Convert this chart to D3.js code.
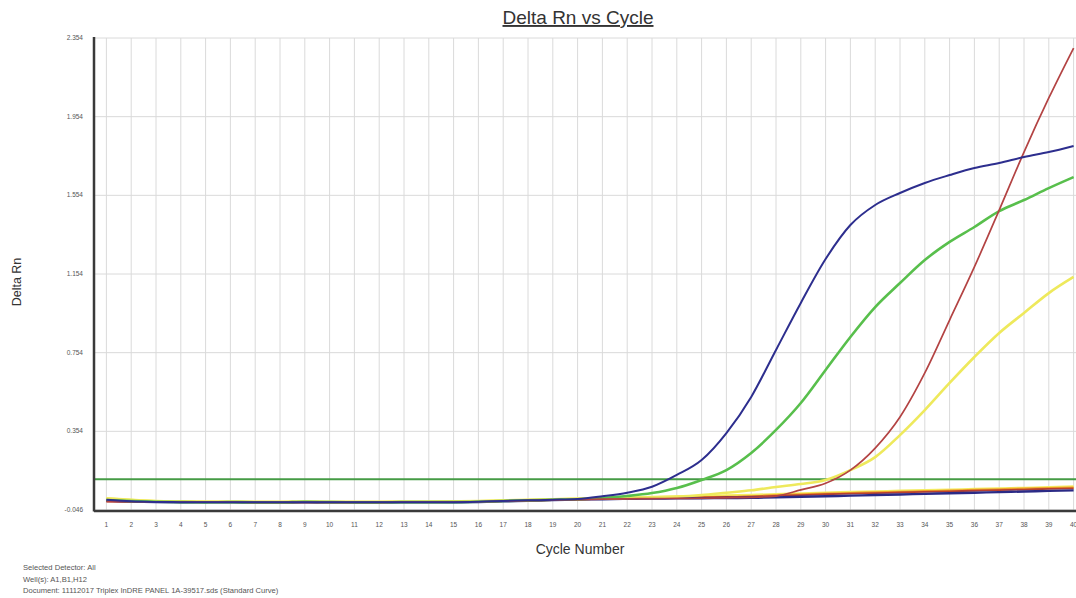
<!DOCTYPE html>
<html>
<head>
<meta charset="utf-8">
<script src="https://cdn.jsdelivr.net/npm/d3@7.9.0/dist/d3.min.js"></script>
<style>
  body { margin: 0; background: #fff; }
  svg { display: block; font-family: "Liberation Sans", Arial, sans-serif; }
</style>
</head>
<body>
<svg></svg>
<script>
const width = 1076;
const height = 598;

// cycle numbers 1..40
const cycles = [1,2,3,4,5,6,7,8,9,10,11,12,13,14,15,16,17,18,19,20,
                21,22,23,24,25,26,27,28,29,30,31,32,33,34,35,36,37,38,39,40];

const yTicks = [-0.046, 0.354, 0.754, 1.154, 1.554, 1.954, 2.354];
const threshold = 0.11;

// amplifying wells
const blueAmp = [0.006,-0.002,-0.005,-0.006,-0.006,-0.006,-0.007,-0.007,-0.006,-0.007,
                 -0.007,-0.007,-0.006,-0.006,-0.006,-0.004,0.000,0.003,0.006,0.010,
                 0.024,0.042,0.072,0.132,0.208,0.345,0.529,0.768,1.007,1.230,
                 1.403,1.505,1.566,1.617,1.657,1.693,1.718,1.749,1.774,1.805];
const greenAmp = [0.004,-0.001,-0.004,-0.006,-0.007,-0.006,-0.007,-0.008,-0.004,-0.006,
                  -0.007,-0.007,-0.006,-0.006,-0.006,-0.004,0.000,0.003,0.006,0.009,
                  0.015,0.025,0.040,0.066,0.107,0.157,0.244,0.361,0.498,0.666,
                  0.834,0.986,1.108,1.225,1.317,1.393,1.474,1.530,1.591,1.647];
const redAmp = [-0.002,-0.004,-0.005,-0.006,-0.006,-0.006,-0.007,-0.007,-0.007,-0.007,
                -0.007,-0.007,-0.006,-0.006,-0.006,-0.004,-0.001,0.002,0.004,0.007,
                0.009,0.011,0.012,0.013,0.014,0.016,0.018,0.025,0.056,0.090,
                0.157,0.269,0.427,0.651,0.920,1.190,1.479,1.774,2.049,2.303];
const yellowAmp = [0.012,0.004,-0.002,-0.004,-0.005,-0.005,-0.006,-0.006,-0.005,-0.006,
                   -0.006,-0.006,-0.005,-0.005,-0.004,-0.002,0.001,0.004,0.007,0.010,
                   0.012,0.015,0.018,0.022,0.030,0.042,0.054,0.071,0.086,0.107,
                   0.157,0.223,0.335,0.462,0.600,0.732,0.854,0.956,1.057,1.139];

// non-amplifying wells
const navyFlat = [0.002,-0.003,-0.006,-0.007,-0.007,-0.007,-0.008,-0.008,-0.007,-0.008,
                  -0.008,-0.008,-0.007,-0.007,-0.007,-0.005,-0.002,0.001,0.004,0.007,
                  0.009,0.011,0.012,0.013,0.014,0.015,0.016,0.018,0.021,0.024,
                  0.027,0.030,0.033,0.036,0.039,0.042,0.045,0.048,0.051,0.054];
const orangeFlat = [0.006,0.000,-0.003,-0.005,-0.005,-0.005,-0.006,-0.006,-0.005,-0.006,
                    -0.006,-0.006,-0.005,-0.005,-0.005,-0.003,0.000,0.003,0.006,0.009,
                    0.011,0.013,0.015,0.017,0.019,0.021,0.024,0.030,0.034,0.038,
                    0.041,0.044,0.047,0.050,0.053,0.057,0.060,0.063,0.066,0.069];
const yellowFlat = [0.014,0.006,0.000,-0.002,-0.003,-0.003,-0.004,-0.004,-0.003,-0.004,
                    -0.004,-0.004,-0.003,-0.003,-0.002,0.000,0.003,0.006,0.009,0.012,
                    0.015,0.018,0.020,0.022,0.024,0.027,0.030,0.034,0.038,0.042,
                    0.045,0.048,0.051,0.054,0.057,0.060,0.063,0.066,0.069,0.073];
const redFlat = [-0.003,-0.005,-0.006,-0.006,-0.006,-0.006,-0.007,-0.007,-0.007,-0.007,
                 -0.007,-0.007,-0.006,-0.006,-0.006,-0.004,-0.001,0.002,0.005,0.008,
                 0.010,0.012,0.014,0.016,0.018,0.020,0.022,0.026,0.030,0.034,
                 0.037,0.040,0.043,0.046,0.049,0.052,0.055,0.058,0.061,0.064];

const series = [
  { values: yellowFlat, color: "#f4ec62", w: 2.6 },
  { values: orangeFlat, color: "#f0a22a", w: 2 },
  { values: redFlat, color: "#b8402f", w: 1.8 },
  { values: navyFlat, color: "#2b2a86", w: 2.4 },
  { values: yellowAmp, color: "#eee95c", w: 2.6 },
  { values: greenAmp, color: "#58bf4c", w: 2.6 },
  { values: redAmp, color: "#b34343", w: 1.7 },
  { values: blueAmp, color: "#2d2e8e", w: 2 }
];

const plotLeft = 94, plotTop = 38, plotBottom = 510;

const svg = d3.select("svg")
    .attr("width", width)
    .attr("height", height);

const x = d3.scaleLinear().domain([0.5, 40.5]).range([plotLeft, plotLeft + 40 * 24.8]);
const y = d3.scaleLinear().domain([-0.046, 2.354]).range([plotBottom, plotTop]);

// grid
svg.append("g")
    .selectAll("line")
    .data(cycles)
    .enter().append("line")
    .attr("x1", d => x(d)).attr("x2", d => x(d))
    .attr("y1", plotTop).attr("y2", plotBottom)
    .attr("stroke", "#dadada").attr("stroke-width", 1);

svg.append("g")
    .selectAll("line")
    .data(yTicks)
    .enter().append("line")
    .attr("x1", plotLeft).attr("x2", width)
    .attr("y1", d => y(d)).attr("y2", d => y(d))
    .attr("stroke", "#dadada").attr("stroke-width", 1);

// threshold
svg.append("line")
    .attr("x1", plotLeft).attr("x2", width)
    .attr("y1", y(threshold)).attr("y2", y(threshold))
    .attr("stroke", "#459b45").attr("stroke-width", 2);

// curves
const line = d3.line()
    .x((d, i) => x(cycles[i]))
    .y(d => y(d))
    .curve(d3.curveMonotoneX);

svg.append("g")
    .selectAll("path")
    .data(series)
    .enter().append("path")
    .attr("d", d => line(d.values))
    .attr("fill", "none")
    .attr("stroke", d => d.color)
    .attr("stroke-width", d => d.w)
    .attr("stroke-linejoin", "round");

// axes
svg.append("line")
    .attr("x1", plotLeft).attr("x2", plotLeft)
    .attr("y1", plotTop - 1).attr("y2", plotBottom + 1.5)
    .attr("stroke", "#3a3a3a").attr("stroke-width", 2.5);
svg.append("line")
    .attr("x1", plotLeft).attr("x2", width)
    .attr("y1", plotBottom + 1).attr("y2", plotBottom + 1)
    .attr("stroke", "#3a3a3a").attr("stroke-width", 2.5);

// tick labels
svg.append("g")
    .selectAll("text")
    .data(yTicks)
    .enter().append("text")
    .attr("x", 83).attr("y", d => y(d) + 2)
    .attr("text-anchor", "end")
    .attr("font-size", 6.5)
    .attr("fill", "#555")
    .text(d => d.toFixed(3));

svg.append("g")
    .selectAll("text")
    .data(cycles)
    .enter().append("text")
    .attr("x", d => x(d)).attr("y", 527)
    .attr("text-anchor", "middle")
    .attr("font-size", 6.5)
    .attr("fill", "#555")
    .text(d => d);

// titles
svg.append("text")
    .attr("x", 578).attr("y", 24)
    .attr("text-anchor", "middle")
    .attr("font-size", 19)
    .attr("fill", "#333")
    .style("text-decoration", "underline")
    .text("Delta Rn vs Cycle");

svg.append("text")
    .attr("transform", "translate(21,282) rotate(-90)")
    .attr("text-anchor", "middle")
    .attr("font-size", 12.5)
    .attr("fill", "#333")
    .text("Delta Rn");

svg.append("text")
    .attr("x", 580).attr("y", 554)
    .attr("text-anchor", "middle")
    .attr("font-size", 14)
    .attr("fill", "#333")
    .text("Cycle Number");

const footer = ["Selected Detector: All", "Well(s): A1,B1,H12",
                "Document: 11112017 Triplex InDRE PANEL 1A-39517.sds (Standard Curve)"];
svg.append("g")
    .selectAll("text")
    .data(footer)
    .enter().append("text")
    .attr("x", 23).attr("y", (d, i) => 570 + i * 11.5)
    .attr("font-size", 7.6)
    .attr("fill", "#555")
    .text(d => d);
</script>
</body>
</html>
